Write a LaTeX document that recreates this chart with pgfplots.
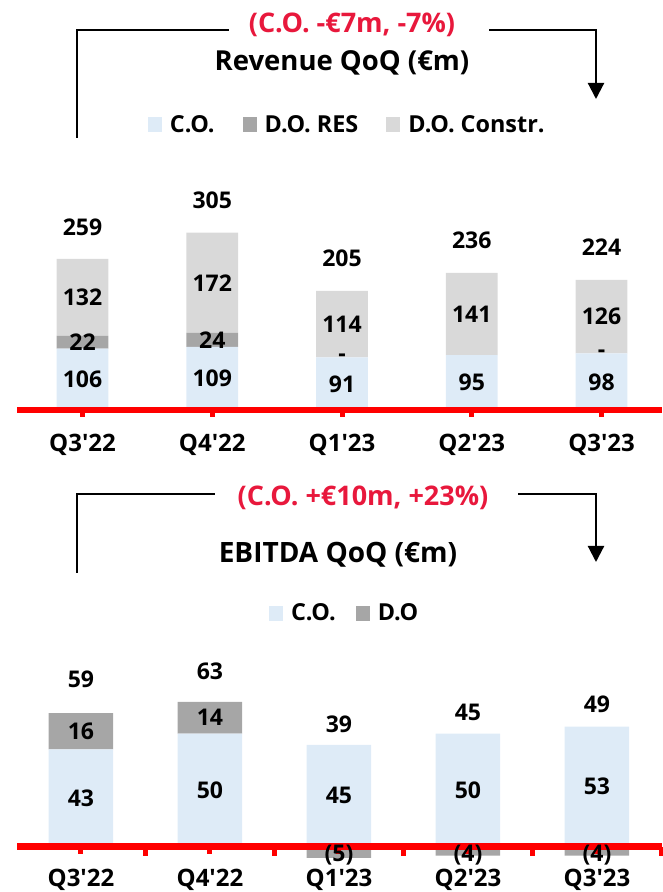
\documentclass[border=0pt]{standalone}
\usepackage{fontspec}
\setmainfont{Open Sans}
\usepackage{pgfplots}
\pgfplotsset{compat=1.18}
\usetikzlibrary{arrows.meta}
\definecolor{co}{HTML}{DEEBF7}
\definecolor{dores}{HTML}{A6A6A6}
\definecolor{docon}{HTML}{D9D9D9}
\definecolor{redline}{HTML}{FF0000}
\definecolor{redtxt}{HTML}{E8183C}
\newcommand\fs[1]{\fontsize{#1}{#1}\selectfont\bfseries}
\pgfplotsset{
  topgeom/.style={scale only axis, width=645pt, height=198.2pt, xmin=-0.505, xmax=4.466, ymin=-10, ymax=330, at={(17pt,475.7pt)}, anchor=south west, clip=false},
  botgeom/.style={scale only axis, width=645pt, height=244.1pt, xmin=-0.496, xmax=4.504, ymin=-18, ymax=90, at={(17pt,4.8pt)}, anchor=south west, clip=false},
  lbl/.style={draw=none, mark=none, nodes near coords, point meta=explicit symbolic, every node near coord/.append style={anchor=center, font=\fs{23}, inner sep=0pt}},
  sq/.style={legend image code/.code={\fill[##1] (0pt,-7.5pt) rectangle (14pt,7.5pt);}},
}
\begin{document}
\begin{tikzpicture}[x=1pt,y=1pt]
\path[use as bounding box] (0,0) rectangle (662,892);
% ---------- top chart ----------
\begin{axis}[topgeom, ybar stacked, bar width=0.4,
  axis y line=none, axis x line*=middle,
  axis line style={redline, line width=6pt},
  xtick={0,...,4},
  xticklabels={Q3\textquotesingle22,Q4\textquotesingle22,Q1\textquotesingle23,Q2\textquotesingle23,Q3\textquotesingle23},
  xtick style={redline, line width=5pt},
  major tick length=6.5pt, tick align=outside,
  xticklabel style={font=\fs{24}, anchor=center, yshift=-28pt},
  axis on top,
  legend columns=3,
  legend style={draw=none, fill=none, at={(0.512,1.470)}, anchor=center, font=\fs{23.4}, inner sep=0pt,
    /tikz/every odd column/.append style={column sep=6pt},
    /tikz/every even column/.append style={column sep=26pt}},
  legend cell align=left]
\addplot[fill=co, draw=none, sq] coordinates {(0,106) (1,109) (2,91) (3,95) (4,98)};
\addlegendentry{C.O.}
\addplot[fill=dores, draw=none, sq] coordinates {(0,22) (1,24) (2,0) (3,0) (4,0)};
\addlegendentry{D.O. RES}
\addplot[fill=docon, draw=none, sq] coordinates {(0,132) (1,172) (2,114) (3,141) (4,126)};
\addlegendentry{D.O. Constr.}
\end{axis}
\begin{axis}[topgeom, hide axis]
\addplot[lbl] table[meta=l] {
x y l
0 53 106
0 117 22
0 194 132
0 315 259
1 54.5 109
1 121 24
1 219 172
1 361 305
2 45.5 91
2 91 -
2 148 114
2 261 205
3 47.5 95
3 165.5 141
3 292 236
4 49 98
4 98 -
4 161 126
4 280 224
};
\end{axis}
\node[text=redtxt, font=\fs{27}] at (352,867) {(C.O. -€7m, -7\%)};
\node[font=\fs{27.5}] at (342,829) {Revenue QoQ (€m)};
\draw[line width=2.2pt, line join=miter] (77,754) -- (77,862) -- (229,862);
\draw[line width=2.2pt, line join=miter, -{Triangle[length=16pt,width=16pt]}] (489,862) -- (596,862) -- (596,793);
% ---------- bottom chart ----------
\begin{axis}[botgeom, hide axis, ybar, bar width=0.5, bar shift=0pt]
\addplot[fill=dores, draw=none] coordinates {(2,-5) (3,-4) (4,-4)};
\end{axis}
\begin{axis}[botgeom, ybar stacked, bar width=0.5,
  axis y line=none, axis x line*=middle,
  axis line style={redline, line width=6.5pt},
  xtick={0,...,4},
  minor xtick={-0.5,0.5,1.5,2.5,3.5,4.5},
  xticklabels={Q3\textquotesingle22,Q4\textquotesingle22,Q1\textquotesingle23,Q2\textquotesingle23,Q3\textquotesingle23},
  xtick style={redline, line width=5pt},
  major tick length=7pt, minor tick length=9pt, tick align=outside,
  xticklabel style={font=\fs{24}, anchor=center, yshift=-26pt},
  axis on top,
  legend columns=2,
  legend style={draw=none, fill=none, at={(0.508,1.123)}, anchor=center, font=\fs{23.4}, inner sep=0pt,
    /tikz/every odd column/.append style={column sep=6pt},
    /tikz/every even column/.append style={column sep=18pt}},
  legend cell align=left]
\addplot[fill=co, draw=none, sq] coordinates {(0,43) (1,50) (2,45) (3,50) (4,53)};
\addlegendentry{C.O.}
\addplot[fill=dores, draw=none, sq] coordinates {(0,16) (1,14) (2,0) (3,0) (4,0)};
\addlegendentry{D.O}
\end{axis}
\begin{axis}[botgeom, hide axis]
\addplot[lbl] table[meta=l] {
x y l
0 21.5 43
0 51 16
0 73.9 59
1 25 50
1 57 14
1 77.6 63
2 22.5 45
2 -4 (5)
2 54 39
3 25 50
3 -4 (4)
3 59.4 45
4 26.5 53
4 -4 (4)
4 63.1 49
};
\end{axis}
\node[text=redtxt, font=\fs{27}] at (363,394) {(C.O. +€10m, +23\%)};
\node[font=\fs{28}] at (338,337) {EBITDA QoQ (€m)};
\draw[line width=2.2pt, line join=miter] (77,319) -- (77,398) -- (215,398);
\draw[line width=2.2pt, line join=miter, -{Triangle[length=16pt,width=16pt]}] (518,398) -- (596,398) -- (596,330);
\end{tikzpicture}
\end{document}
